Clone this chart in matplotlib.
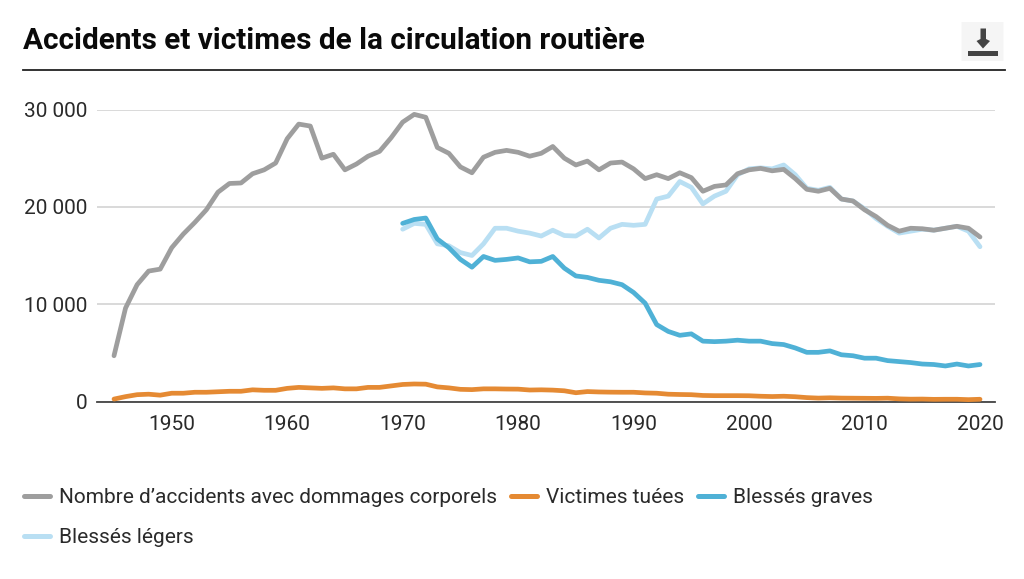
import numpy as np
import matplotlib
matplotlib.use('Agg')
import matplotlib.pyplot as plt
from matplotlib.patches import FancyBboxPatch, Polygon, Rectangle
from matplotlib.lines import Line2D
from matplotlib.ticker import FuncFormatter

years_all = np.arange(1945, 2021)
years_blesses = np.arange(1970, 2021)

accidents = [4700, 9600, 12000, 13400, 13600, 15800, 17200, 18400, 19700, 21500,
             22400, 22450, 23400, 23800, 24500, 27000, 28500, 28300, 25000, 25400,
             23800, 24400, 25200, 25700, 27100, 28700, 29500, 29200, 26100, 25500,
             24100, 23500, 25100, 25600, 25800, 25600, 25200, 25500, 26200, 25000,
             24300, 24700, 23800, 24500, 24600, 23900, 22900, 23300, 22900, 23500,
             23000, 21600, 22100, 22250, 23400, 23800, 23950, 23700, 23850, 22900,
             21800, 21600, 21900, 20800, 20600, 19700, 19000, 18100, 17500, 17800,
             17750, 17600, 17800, 18000, 17800, 16900]
tues = [250, 500, 700, 750, 650, 850, 850, 950, 950, 1000,
        1050, 1050, 1200, 1150, 1150, 1350, 1450, 1400, 1350, 1400,
        1300, 1300, 1450, 1450, 1600, 1750, 1800, 1780, 1500, 1400,
        1250, 1220, 1300, 1300, 1280, 1270, 1180, 1200, 1170, 1100,
        900, 1020, 980, 960, 950, 950, 880, 850, 750, 720,
        700, 620, 600, 600, 600, 590, 540, 510, 540, 490,
        400, 350, 380, 350, 340, 330, 320, 340, 270, 240,
        250, 220, 230, 230, 190, 230]
graves = [18300, 18700, 18850, 16700, 15800, 14600, 13800, 14900, 14500, 14600,
          14750, 14350, 14400, 14900, 13700, 12900, 12750, 12450, 12300, 12000,
          11200, 10100, 7900, 7200, 6800, 6950, 6200, 6150, 6200, 6300,
          6200, 6200, 5950, 5850, 5500, 5050, 5050, 5200, 4800, 4700,
          4450, 4450, 4200, 4100, 4000, 3850, 3800, 3650, 3850, 3650, 3800]
legers = [17700, 18300, 18200, 16200, 16000, 15300, 15000, 16200, 17800, 17800,
          17500, 17300, 17000, 17600, 17050, 17000, 17700, 16800, 17800, 18200,
          18100, 18200, 20800, 21100, 22600, 22000, 20300, 21100, 21600, 23300,
          23900, 24000, 23900, 24300, 23300, 21900, 21700, 22000, 20800, 20600,
          19800, 18800, 18000, 17300, 17500, 17700, 17600, 17800, 18000, 17500, 15900]

W, H = 1024, 579
plt.rcParams['font.family'] = ['Roboto', 'DejaVu Sans']

fig = plt.figure(figsize=(W / 100, H / 100), dpi=100)
ax = fig.add_axes([97 / W, 1 - 401.5 / H, (995 - 97) / W, 292 / H])


def px(x, y):
    # pixel coords (from top left) to figure fraction
    return x / W, 1 - y / H


lw = 3.4
line_kw = dict(lw=lw, solid_joinstyle='round', solid_capstyle='round', clip_on=False)
l_acc, = ax.plot(years_all, accidents, color='#9e9e9e', label="Nombre d\u2019accidents avec dommages corporels", zorder=5, **line_kw)
l_tues, = ax.plot(years_all, tues, color='#e58a33', label='Victimes tu\u00e9es', zorder=5, **line_kw)
l_graves, = ax.plot(years_blesses, graves, color='#4fb1d6', label='Bless\u00e9s graves', zorder=4, **line_kw)
l_legers, = ax.plot(years_blesses, legers, color='#b9dff3', label='Bless\u00e9s l\u00e9gers', zorder=3, **line_kw)

ax.set_xlim(1945 - 17 / 11.545, 2020 + 15 / 11.545)
ax.set_ylim(0, 30000)
ax.set_yticks([0, 10000, 20000, 30000])
ax.set_xticks(np.arange(1950, 2021, 10))
ax.yaxis.set_major_formatter(FuncFormatter(lambda v, p: f'{int(v):,}'.replace(',', ' ')))
ax.grid(axis='y', color='#d0d0d0', lw=1.1)
ax.set_axisbelow(True)
for s in ['top', 'right', 'left']:
    ax.spines[s].set_visible(False)
ax.spines['bottom'].set_color('#444444')
ax.spines['bottom'].set_linewidth(1.3)
ax.spines['bottom'].set_zorder(2)
ax.tick_params(axis='both', length=0, labelsize=15, labelcolor='#2a2a2a')
ax.tick_params(axis='y', pad=7)
ax.tick_params(axis='x', pad=10)

# legend fills by column, so the second row entry goes second
handles = [l_acc, l_legers, l_tues, l_graves]
leg = ax.legend(handles=handles, loc='upper left', bbox_to_anchor=px(24, 488), bbox_transform=fig.transFigure,
                ncol=3, frameon=False, prop={'size': 15},
                handlelength=1.27, handletextpad=0.42, columnspacing=0.65, labelspacing=1.02,
                borderaxespad=0, borderpad=0, labelcolor='#2a2a2a')
for h in leg.legend_handles:
    h.set_linewidth(3.6)

fig.text(*px(23, 41), 'Accidents et victimes de la circulation routi\u00e8re', fontsize=21.4,
         fontweight='bold', color='#0a0a0a', va='center', ha='left')
fig.add_artist(Line2D([23 / W, 1005 / W], [1 - 70 / H] * 2, color='#222222', lw=1.3))

# download button
fig.add_artist(FancyBboxPatch(px(965, 57.5), 35 / W, 32 / H, boxstyle='round,pad=0', fc='#f5f5f5', ec='#f5f5f5',
                              lw=5, transform=fig.transFigure, mutation_aspect=1))
fig.add_artist(Rectangle(px(968, 56), 30 / W, 5 / H, fc='#444444', ec='none', transform=fig.transFigure))
arrow = [(980.5, 28.5), (986, 28.5), (986, 39), (990, 41), (983, 48.5), (976.5, 41), (980.5, 39)]
fig.add_artist(Polygon([px(*p) for p in arrow], closed=True, fc='#444444', ec='none', transform=fig.transFigure))

fig.savefig('out.png', dpi=100)
